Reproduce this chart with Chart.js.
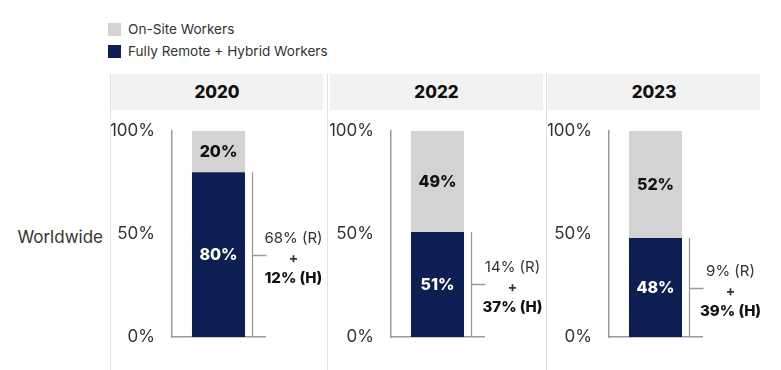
<!DOCTYPE html>
<html>
<head>
<meta charset="utf-8">
<script src="https://cdn.jsdelivr.net/npm/chart.js@4.4.1/dist/chart.umd.min.js"></script>
<style>
  html, body { margin:0; padding:0; background:#fff; }
  body { width:781px; height:370px; position:relative; overflow:hidden; font-family:'Inter','Noto Sans',sans-serif; color:#333; }
  .abs { position:absolute; }
  .legend-item { position:absolute; left:108px; font-size:13.6px; color:#333; line-height:14px; white-space:nowrap; }
  .legend-item span.sw { display:inline-block; width:13px; height:13px; vertical-align:-2px; margin-right:7px; }
  .hdr { position:absolute; top:74px; height:36px; background:#f2f2f2; font-weight:800; font-size:17px; color:#111; text-align:center; line-height:36px; }
  .sep { position:absolute; top:74px; width:1px; height:296px; background:#e2e2e2; }
  canvas { position:absolute; }
</style>
</head>
<body>
<div class="legend-item" style="top:22px"><span class="sw" style="background:#d3d3d3"></span>On-Site Workers</div>
<div class="legend-item" style="top:44px"><span class="sw" style="background:#0d1f52"></span>Fully Remote + Hybrid Workers</div>
<div class="abs" style="left:0;width:103px;top:227px;text-align:right;font-size:17px;color:#333;">Worldwide</div>
<div id="root"></div>
<script>
const years = ['2020', '2022', '2023'];
const onSite = [20, 49, 52];
const remoteHybrid = [80, 51, 48];
const fullyRemote = [68, 14, 9];
const hybrid = [12, 37, 39];
const yTicks = [0, 50, 100];
const regionLabel = ['Worldwide'];

const navy = '#0d1f52';
const gray = '#d3d3d3';
const axisColor = '#9a9a9a';

const panelHeaders = [[111, 212], [330, 213], [548, 212]];
const separators = [110, 327, 546];
const areaLefts = [172, 391, 609];

const root = document.getElementById('root');
separators.forEach(x => {
  const d = document.createElement('div');
  d.className = 'sep'; d.style.left = x + 'px';
  root.appendChild(d);
});
years.forEach((y, i) => {
  const d = document.createElement('div');
  d.className = 'hdr';
  d.style.left = panelHeaders[i][0] + 'px';
  d.style.width = panelHeaders[i][1] + 'px';
  d.textContent = y;
  root.appendChild(d);
});

const FONT = "'Inter','Noto Sans',sans-serif";
const LEFTW = 61, AREAW = 93, RIGHTW = 84, CTOP = 115, CH = 250;

const labelPlugin = {
  id: 'labels',
  afterDatasetsDraw(chart) {
    const ctx = chart.ctx;
    const i = chart.options.plugins.labels.idx;
    ctx.save();
    ctx.textAlign = 'center';
    ctx.textBaseline = 'middle';
    chart.data.datasets.forEach((ds, di) => {
      const el = chart.getDatasetMeta(di).data[0];
      const cy = (el.y + el.base) / 2;
      ctx.font = '800 16px ' + FONT;
      ctx.fillStyle = di === 0 ? '#ffffff' : '#111111';
      ctx.fillText(ds.data[0] + '%', el.x, cy + 1);
    });
    const el = chart.getDatasetMeta(0).data[0];
    const bx = el.x + el.width / 2 + 7.5;
    const mid = Math.round((el.y + el.base) / 2) + 0.5;
    ctx.strokeStyle = axisColor;
    ctx.lineWidth = 1.3;
    ctx.beginPath();
    ctx.moveTo(bx, el.y);
    ctx.lineTo(bx, el.base);
    ctx.moveTo(bx, mid);
    ctx.lineTo(bx + 14, mid);
    ctx.stroke();
    const tx = bx + 14 + 27;
    ctx.fillStyle = '#333';
    ctx.font = '400 15px ' + FONT;
    ctx.fillText(fullyRemote[i] + '% (R)', tx, mid - 17);
    ctx.font = '700 14px ' + FONT;
    ctx.fillText('+', tx, mid + 3);
    ctx.fillStyle = '#111';
    ctx.font = '800 15px ' + FONT;
    ctx.fillText(hybrid[i] + '% (H)', tx, mid + 23);
    ctx.restore();
  }
};

years.forEach((yr, i) => {
  const c = document.createElement('canvas');
  const w = LEFTW + AREAW + RIGHTW;
  c.width = w; c.height = CH;
  c.style.left = (areaLefts[i] - LEFTW) + 'px';
  c.style.top = CTOP + 'px';
  c.style.width = w + 'px'; c.style.height = CH + 'px';
  root.appendChild(c);
  new Chart(c, {
    type: 'bar',
    data: {
      labels: [yr],
      datasets: [
        { label: 'Fully Remote + Hybrid Workers', data: [remoteHybrid[i]], backgroundColor: navy, borderWidth: 0 },
        { label: 'On-Site Workers', data: [onSite[i]], backgroundColor: gray, borderWidth: 0 }
      ]
    },
    options: {
      responsive: false,
      animation: false,
      devicePixelRatio: 1,
      layout: { padding: { left: 0, right: RIGHTW, top: 16, bottom: 28 } },
      datasets: { bar: { barPercentage: 0.57, categoryPercentage: 1 } },
      plugins: { legend: { display: false }, tooltip: { enabled: false }, labels: { idx: i } },
      scales: {
        x: {
          stacked: true,
          grid: { display: false, drawTicks: false },
          border: { display: true, color: axisColor, width: 1.5 },
          ticks: { display: false },
          afterFit(s) { s.height = 0; }
        },
        y: {
          stacked: true,
          min: 0, max: 100,
          afterBuildTicks(s) { s.ticks = yTicks.map(v => ({ value: v })); },
          grid: { display: false, drawTicks: false },
          border: { display: true, color: axisColor, width: 1.5 },
          ticks: {
            padding: 17,
            color: '#333',
            font: { family: FONT, size: 17, weight: '400' },
            callback: v => v + '%'
          },
          afterFit(s) { s.width = LEFTW; s.paddingTop = 0; s.paddingBottom = 0; }
        }
      }
    },
    plugins: [labelPlugin]
  });
});
</script>
</body>
</html>
